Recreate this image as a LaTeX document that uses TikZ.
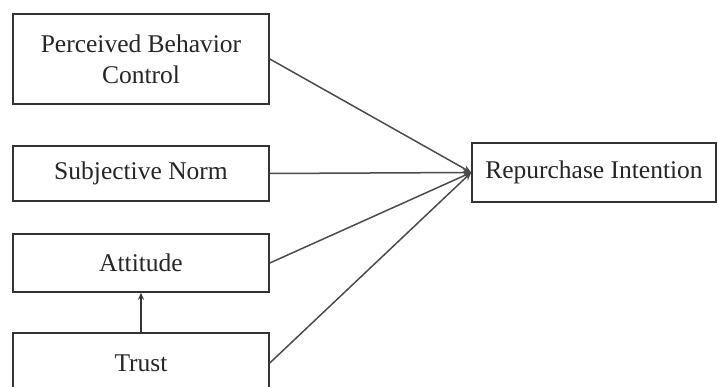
\documentclass[tikz,border=0pt]{standalone}
\usepackage{fontspec}
\setmainfont{Liberation Serif}
\usetikzlibrary{arrows.meta}
\begin{document}
\begin{tikzpicture}[x=1pt,y=-1pt,
  box/.style={draw=black!80,line width=1.6pt,minimum width=256pt,inner sep=0pt,align=center,
    font=\fontsize{25.5}{31}\selectfont,text=black!85},
  link/.style={draw=black!70,line width=1.5pt,-{Stealth[length=8pt,width=7pt]}}]
\useasboundingbox (0,0) rectangle (718,387);
\fill[white] (0,0) rectangle (718,387);
\node[box,minimum height=90pt] (pbc) at (141,59) {Perceived Behavior\\Control};
\node[box,minimum height=55pt] (sn) at (141,173.5) {Subjective Norm};
\node[box,minimum height=58pt] (att) at (141,263) {Attitude};
\node[box,minimum height=60pt] (tr) at (141,363) {Trust};
\node[box,minimum width=244pt,minimum height=59pt] (rep) at (594,172.5) {Repurchase Intention};
\draw[link] (pbc.east) -- (rep.west);
\draw[link] (sn.east) -- (rep.west);
\draw[link] (att.east) -- (rep.west);
\draw[link] (tr.east) -- (rep.west);
\draw[draw=black!80,line width=1.4pt,-{Stealth[length=7pt,width=6pt]}] (tr.north) -- (att.south);
\end{tikzpicture}
\end{document}
